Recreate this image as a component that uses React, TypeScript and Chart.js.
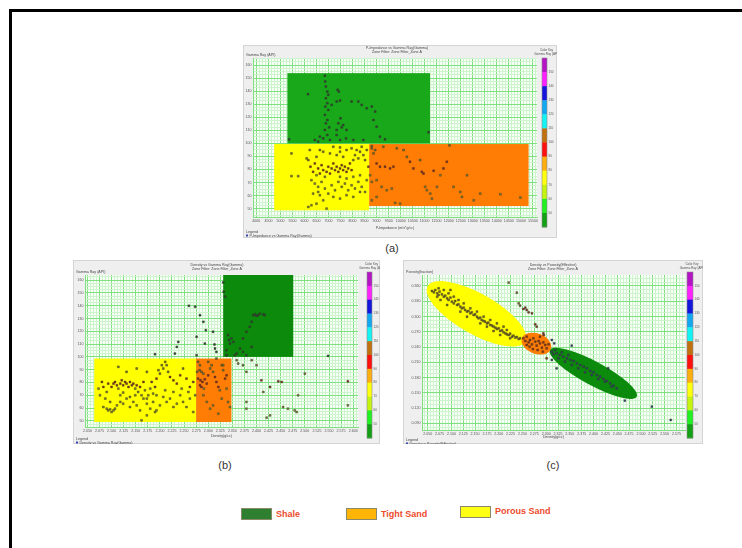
import { useEffect, useRef } from "react";
import { Chart, registerables } from "chart.js";

Chart.register(...registerables);

// ---------- (a) P-Impedance vs Gamma Ray ----------
const A_X_TICKS = [4000, 4500, 5000, 5500, 6000, 6500, 7000, 7500, 8000, 8500, 9000, 9500, 10000, 10500, 11000, 11500, 12000, 12500, 13000, 13500, 14000, 14500, 15000, 15500];
const A_Y_TICKS = [50, 60, 70, 80, 90, 100, 110, 120, 130, 140, 150, 160];
const A_SHALE_BOX = [5290, 11220, 100, 153.8];
const A_POROUS_BOX = [4740, 8690, 48.7, 99.5];
const A_TIGHT_BOX = [8690, 15320, 52, 99.5];

const A_SHALE_PTS = [
  [6850, 151.8], [6860, 147.4], [6890, 143.6], [6950, 139.7], [6990, 137.2], [6890, 134.6], [6950, 130.8], [6870, 128.2],
  [6990, 125.6], [6850, 121.8], [6950, 117.9], [6890, 115.4], [7030, 112.3], [6850, 110.3], [6950, 106.4], [6780, 103.8],
  [7060, 102.6], [6640, 105.1], [6150, 137.7], [7380, 141.0], [7430, 139.7], [7340, 132.1], [7480, 132.8], [7130, 129.5],
  [7500, 119.2], [7410, 115.4], [7550, 112.3], [7340, 110.3], [7610, 114.1], [7750, 110.3], [7730, 103.8], [7960, 132.1],
  [8240, 132.1], [8380, 129.5], [8590, 126.9], [8800, 128.2], [8940, 124.4], [8870, 117.9], [9000, 112.8], [8030, 102.6],
  [8450, 102.6], [9140, 105.1], [9350, 103.1], [11160, 108.5], [5360, 103.1], [6570, 101.3], [6430, 102.6], [7480, 102.6],
  [7340, 106.4],
];
const A_POROUS_PTS = [
  [5460, 92.3], [5460, 74.9], [5740, 74.9], [6090, 88.5], [6220, 94.9], [6160, 87.2], [6250, 82.1], [6360, 78.2], [6430, 84.6],
  [6500, 75.6], [6570, 80.8], [6640, 76.9], [6710, 83.3], [6780, 79.5], [6850, 74.4], [6920, 78.2], [6990, 82.1], [7060, 76.9],
  [7130, 80.8], [7200, 84.6], [7270, 79.5], [7340, 82.1], [7410, 78.2], [7480, 80.8], [7550, 83.3], [7610, 79.5], [7680, 82.1],
  [7750, 78.2], [7820, 80.8], [7890, 84.6], [7960, 79.5], [8030, 87.2], [8100, 91.0], [8170, 94.9], [8240, 88.5], [8310, 93.6],
  [8380, 97.4], [8450, 91.0], [8520, 87.2], [8590, 94.9], [7480, 93.6], [7340, 91.0], [7610, 89.7], [7060, 92.3], [6780, 93.6],
  [6500, 89.7], [6640, 94.9], [7200, 97.4], [7480, 96.9], [7750, 94.9], [7960, 96.2], [6290, 71.8], [6430, 69.2], [6570, 66.7],
  [6710, 70.5], [6850, 65.4], [6990, 61.5], [7130, 67.9], [7270, 64.1], [7410, 70.5], [7550, 66.7], [7680, 69.2], [7820, 64.1],
  [7960, 67.9], [8100, 65.4], [8240, 70.5], [8380, 66.7], [8520, 62.8], [6640, 60.3], [6780, 56.4], [6500, 53.8], [6290, 52.6],
  [6160, 51.3], [6920, 50.0], [7200, 59.0], [7480, 57.7], [7750, 60.3], [8030, 59.0], [8310, 62.8], [6360, 61.5], [6570, 62.8],
  [7480, 74.4], [7750, 73.1], [8030, 74.4], [8310, 75.6], [8590, 71.8], [8660, 82.1],
];
const A_TIGHT_PTS = [
  [8800, 96.2], [8870, 92.3], [9000, 84.6], [9140, 82.1], [9350, 82.1], [9560, 80.8], [9700, 82.1], [8730, 75.6], [8800, 70.5],
  [9000, 71.8], [9210, 66.7], [9420, 64.1], [9630, 65.4], [9770, 54.4], [9980, 53.8], [10120, 94.9], [10260, 89.7], [10390, 85.9],
  [10530, 80.8], [10810, 87.2], [10880, 78.2], [10950, 76.9], [11020, 66.7], [11090, 64.1], [11230, 61.5], [11300, 57.7],
  [11370, 79.0], [11650, 75.6], [11780, 80.8], [11920, 85.9], [12030, 98.5], [12200, 66.7], [12480, 62.8], [12550, 59.0],
  [12760, 75.6], [13040, 56.4], [13310, 61.5], [14150, 61.0], [14980, 58.5], [8800, 97.9], [8940, 94.9], [9280, 97.4],
  [9840, 96.2], [11510, 66.7], [9000, 59.0], [8800, 56.4],
];

// ---------- (b) Density vs Gamma Ray ----------
const B_X_TICKS = [2.05, 2.075, 2.1, 2.125, 2.15, 2.175, 2.2, 2.225, 2.25, 2.275, 2.3, 2.325, 2.35, 2.375, 2.4, 2.425, 2.45, 2.475, 2.5, 2.525, 2.55, 2.575, 2.6];
const B_Y_TICKS = [50, 60, 70, 80, 90, 100, 110, 120, 130, 140, 150, 160];
const B_SHALE_BOX = [2.331, 2.476, 100, 164];
const B_POROUS_BOX = [2.064, 2.275, 49.1, 98.7];
const B_TIGHT_BOX = [2.275, 2.348, 49.1, 98.7];

const B_POROUS_PTS = [
  [2.073, 75.2], [2.076, 70.0], [2.080, 80.4], [2.083, 76.5], [2.087, 67.4], [2.090, 72.6], [2.093, 79.1], [2.097, 64.8],
  [2.100, 76.5], [2.104, 79.1], [2.107, 80.4], [2.111, 77.8], [2.114, 75.2], [2.118, 79.1], [2.121, 81.7], [2.124, 77.8],
  [2.128, 80.4], [2.131, 79.1], [2.135, 76.5], [2.138, 80.4], [2.142, 77.8], [2.145, 79.1], [2.149, 75.2], [2.152, 77.8],
  [2.155, 72.6], [2.159, 76.5], [2.162, 70.0], [2.166, 80.4], [2.169, 73.9], [2.173, 67.4], [2.176, 70.0], [2.180, 75.2],
  [2.183, 80.4], [2.186, 71.3], [2.190, 76.5], [2.193, 83.0], [2.197, 89.6], [2.200, 86.9], [2.204, 93.5], [2.207, 90.9],
  [2.211, 96.1], [2.214, 93.5], [2.217, 88.3], [2.221, 84.3], [2.228, 81.7], [2.235, 79.1], [2.242, 85.6], [2.248, 90.9],
  [2.255, 83.0], [2.262, 76.5], [2.269, 80.4], [2.273, 70.0], [2.083, 60.8], [2.090, 59.5], [2.093, 58.2], [2.097, 59.0],
  [2.100, 56.9], [2.104, 58.2], [2.107, 59.5], [2.111, 62.1], [2.118, 64.8], [2.124, 63.4], [2.131, 67.4], [2.138, 60.8],
  [2.145, 64.8], [2.152, 62.1], [2.159, 58.2], [2.166, 67.4], [2.173, 63.4], [2.180, 59.5], [2.186, 64.8], [2.193, 58.2],
  [2.200, 62.1], [2.207, 68.7], [2.214, 64.8], [2.221, 67.4], [2.228, 60.8], [2.235, 63.4], [2.242, 70.0], [2.248, 64.8],
  [2.255, 60.8], [2.262, 67.4], [2.269, 56.9], [2.162, 50.4], [2.173, 54.3], [2.190, 56.9], [2.118, 70.0], [2.124, 72.1],
  [2.138, 68.7], [2.149, 70.0], [2.193, 70.0], [2.211, 73.9], [2.228, 72.6], [2.245, 75.2], [2.259, 72.6], [2.152, 90.9],
  [2.173, 88.3], [2.131, 88.3], [2.114, 92.2],
];
const B_TIGHT_PTS = [
  [2.277, 88.3], [2.282, 89.6], [2.286, 88.3], [2.290, 86.9], [2.279, 83.0], [2.284, 81.7], [2.288, 80.4], [2.293, 82.5],
  [2.297, 79.1], [2.283, 77.8], [2.286, 76.5], [2.291, 75.2], [2.300, 85.6], [2.304, 90.9], [2.307, 93.5], [2.310, 88.3],
  [2.314, 84.3], [2.317, 80.4], [2.321, 76.5], [2.324, 73.9], [2.328, 93.5], [2.331, 89.6], [2.335, 83.0], [2.338, 75.2],
  [2.290, 70.0], [2.297, 64.8], [2.304, 59.5], [2.310, 62.1], [2.321, 55.6], [2.328, 67.4], [2.331, 93.5], [2.338, 85.6],
  [2.341, 64.8], [2.345, 60.8], [2.283, 93.5], [2.279, 96.1], [2.300, 96.1],
];
const B_SHALE_PTS = [
  [2.331, 158.2], [2.332, 150.9], [2.335, 147.0], [2.341, 117.0], [2.343, 113.1], [2.345, 110.4], [2.348, 114.4], [2.352, 111.7],
  [2.355, 101.3], [2.366, 106.5], [2.372, 114.4], [2.379, 119.6], [2.386, 123.5], [2.390, 127.4], [2.393, 132.6], [2.397, 133.2],
  [2.400, 132.1], [2.403, 132.6], [2.407, 133.7], [2.414, 133.2], [2.417, 132.6], [2.372, 103.9], [2.379, 101.3], [2.390, 107.8],
  [2.338, 105.2], [2.359, 102.6], [2.338, 101.3],
];
const B_OTHER_PTS = [
  [2.260, 139.9], [2.273, 139.2], [2.283, 132.6], [2.290, 127.4], [2.295, 120.9], [2.276, 115.7], [2.293, 110.4], [2.310, 119.6],
  [2.313, 109.7], [2.314, 106.5], [2.317, 103.9], [2.317, 98.7], [2.238, 111.7], [2.235, 107.8], [2.231, 102.6], [2.190, 102.1],
  [2.276, 101.3], [2.359, 97.4], [2.362, 94.8], [2.372, 93.5], [2.379, 88.3], [2.390, 97.4], [2.400, 93.5], [2.410, 81.7],
  [2.414, 72.6], [2.428, 76.5], [2.445, 80.9], [2.452, 80.4], [2.455, 60.8], [2.465, 59.5], [2.479, 58.2], [2.483, 56.9],
  [2.486, 70.0], [2.500, 86.9], [2.548, 100.8], [2.589, 80.9], [2.589, 62.1], [2.379, 64.8], [2.379, 59.5], [2.421, 52.5],
  [2.428, 54.3],
];

// ---------- (c) Density vs Porosity ----------
const C_X_TICKS = [2.05, 2.075, 2.1, 2.125, 2.15, 2.175, 2.2, 2.225, 2.25, 2.275, 2.3, 2.325, 2.35, 2.375, 2.4, 2.425, 2.45, 2.475, 2.5, 2.525, 2.55, 2.575];
const C_Y_TICKS = [0.09, 0.12, 0.15, 0.18, 0.21, 0.24, 0.27, 0.3, 0.33, 0.36];
// ellipse: [x1, y1, x2, y2] major-axis ends, then minor/major ratio
const C_POROUS_ELLIPSE = [2.050, 0.3595, 2.256, 0.2510, 0.36];
const C_TIGHT_ELLIPSE = [2.249, 0.2572, 2.31, 0.2362, 0.66];
const C_SHALE_ELLIPSE = [2.308, 0.2342, 2.491, 0.1425, 0.24];

const C_POROUS_PTS = [
  [2.059, 0.3502], [2.063, 0.3476], [2.066, 0.3521], [2.070, 0.3456], [2.073, 0.3423], [2.075, 0.3489], [2.080, 0.3436],
  [2.084, 0.3390], [2.087, 0.3410], [2.091, 0.3358], [2.094, 0.3325], [2.098, 0.3371], [2.101, 0.3292], [2.105, 0.3259],
  [2.108, 0.3305], [2.112, 0.3227], [2.115, 0.3240], [2.119, 0.3194], [2.122, 0.3161], [2.126, 0.3174], [2.129, 0.3128],
  [2.133, 0.3096], [2.136, 0.3109], [2.140, 0.3063], [2.143, 0.3083], [2.147, 0.3030], [2.150, 0.3043], [2.154, 0.2997],
  [2.157, 0.2965], [2.161, 0.2978], [2.164, 0.2932], [2.168, 0.2912], [2.171, 0.2899], [2.175, 0.2866], [2.178, 0.2880],
  [2.182, 0.2834], [2.186, 0.2821], [2.189, 0.2801], [2.193, 0.2781], [2.196, 0.2755], [2.200, 0.2768], [2.203, 0.2716],
  [2.207, 0.2729], [2.210, 0.2690], [2.214, 0.2670], [2.217, 0.2650], [2.221, 0.2637], [2.224, 0.2663], [2.228, 0.2604],
  [2.231, 0.2624], [2.235, 0.2585], [2.238, 0.2598], [2.242, 0.2559], [2.245, 0.2572], [2.084, 0.3521], [2.094, 0.3456],
  [2.105, 0.3390], [2.115, 0.3325], [2.077, 0.3325], [2.091, 0.3227], [2.126, 0.3259], [2.140, 0.3161], [2.154, 0.3096],
  [2.168, 0.2997], [2.182, 0.2932], [2.189, 0.2716], [2.203, 0.2637], [2.217, 0.2735], [2.175, 0.2801], [2.161, 0.2866],
  [2.133, 0.2997], [2.119, 0.3096], [2.098, 0.3521], [2.073, 0.3554], [2.196, 0.2866], [2.210, 0.2801], [2.224, 0.2572],
  [2.070, 0.3390],
];
const C_TIGHT_PTS = [
  [2.252, 0.2572], [2.256, 0.2519], [2.259, 0.2604], [2.263, 0.2493], [2.266, 0.2539], [2.270, 0.2454], [2.273, 0.2572],
  [2.277, 0.2506], [2.280, 0.2428], [2.284, 0.2519], [2.287, 0.2473], [2.291, 0.2388], [2.294, 0.2493], [2.298, 0.2441],
  [2.301, 0.2375], [2.305, 0.2454], [2.265, 0.2408], [2.272, 0.2362], [2.282, 0.2342], [2.293, 0.2310], [2.259, 0.2441],
  [2.287, 0.2604], [2.295, 0.2637],
];
const C_SHALE_PTS = [
  [2.312, 0.2310], [2.315, 0.2257], [2.322, 0.2277], [2.329, 0.2244], [2.336, 0.2211], [2.344, 0.2179], [2.351, 0.2146],
  [2.358, 0.2126], [2.365, 0.2080], [2.372, 0.2048], [2.379, 0.2015], [2.386, 0.1982], [2.393, 0.1930], [2.400, 0.1904],
  [2.407, 0.1851], [2.414, 0.1818], [2.421, 0.1773], [2.428, 0.1733], [2.435, 0.1687], [2.442, 0.1642], [2.326, 0.2179],
  [2.340, 0.2113], [2.354, 0.2048], [2.368, 0.1982], [2.382, 0.1904], [2.396, 0.1851], [2.410, 0.1773], [2.424, 0.1720],
  [2.438, 0.1622], [2.449, 0.1589], [2.319, 0.2342], [2.333, 0.2297], [2.347, 0.2244],
];
const C_OTHER_PTS = [
  [2.221, 0.3666], [2.238, 0.3469], [2.242, 0.3259], [2.245, 0.3214], [2.252, 0.3148], [2.256, 0.3174], [2.259, 0.3128],
  [2.263, 0.3083], [2.270, 0.3063], [2.277, 0.2847], [2.280, 0.2801], [2.294, 0.2670], [2.312, 0.2539], [2.317, 0.2473],
  [2.301, 0.2179], [2.312, 0.2146], [2.322, 0.1982], [2.354, 0.2428], [2.431, 0.1982], [2.466, 0.1347], [2.523, 0.1229],
  [2.563, 0.0967],
];

// ---------- colour key and facies legend ----------
const KEY_COLORS = ["#b414c4", "#ff22ff", "#1414dc", "#14a8f0", "#14f4f4", "#c0700e", "#ff1010", "#ffae10", "#ffff10", "#c4f410", "#22f022", "#14a014"];
const KEY_LABELS = ["150", "140", "130", "120", "110", "100", "90", "80", "70", "60", "50"];
const FACIES = ["Shale", "Tight Sand", "Porous Sand"];
const FACIES_COLORS = ["#2f7f31", "#ffb506", "#ffff14"];

const YELLOW = "#ffff00";
const ORANGE = "#ff7d05";

type Pt = number[];
type Spec = {
  left: number; top: number; width: number; height: number;
  pad: { left: number; top: number; right: number; bottom: number };
  yAxisW: number; xAxisH: number;
  xMin: number; xMax: number; yMin: number; yMax: number;
  xTicks: number[]; yTicks: number[]; xFmt: (v: number) => string; yFmt: (v: number) => string;
  boxes: { r: number[]; color: string }[];
  ellipses: { e: number[]; color: string }[];
  groups: { pts: Pt[]; color: (x: number, y: number) => string }[];
  key: { x: number; y: number; w: number; h: number };
  title: string[]; titleX: number; titleY: number;
  yTitle: string; xTitle: string; xTitleY: number; legendY: number; legendText: string;
};

const grColor = (_x: number, y: number) =>
  y >= 100 ? "#2f4a2a" : y >= 86 ? "#7a7420" : y >= 76 ? "#962a10" : "#858226";
const densColor = (x: number, _y: number) =>
  x < 2.246 ? "#7a6a1c" : x < 2.31 ? "#943410" : "#34466a";

function makeTicks(majors: number[], sub: number, min: number, max: number, fmt: (v: number) => string) {
  const step = (majors[1] - majors[0]) / sub;
  const base = majors[0];
  const kMin = Math.ceil((min - base) / step - 1e-9);
  const kMax = Math.floor((max - base) / step + 1e-9);
  const out: { value: number; major: boolean; label: string }[] = [];
  for (let k = kMin; k <= kMax; k++) {
    const idx = k / sub;
    const major = k % sub === 0 && idx >= 0 && idx < majors.length;
    out.push({ value: base + k * step, major, label: major ? fmt(majors[idx]) : "" });
  }
  return out;
}

const MAJOR_GRID = "#7fe07f";
const MINOR_GRID = "#cdf4cd";

function Panel({ spec }: { spec: Spec }) {
  const ref = useRef<HTMLCanvasElement | null>(null);
  useEffect(() => {
    if (!ref.current) return;
    const s = spec;
    const decor = {
      id: "panelDecor",
      beforeDraw(chart: any) {
        const { ctx, chartArea: a } = chart;
        ctx.save();
        ctx.fillStyle = "#efefef";
        ctx.fillRect(0, 0, s.width, s.height);
        ctx.strokeStyle = "#d4d4d4";
        ctx.lineWidth = 1;
        ctx.strokeRect(0.5, 0.5, s.width - 1, s.height - 1);
        ctx.fillStyle = "#f7fff7";
        ctx.fillRect(a.left, a.top, a.right - a.left, a.bottom - a.top);
        ctx.restore();
      },
      beforeDatasetsDraw(chart: any) {
        const { ctx } = chart;
        const xs = chart.scales.x;
        const ys = chart.scales.y;
        ctx.save();
        for (const b of s.boxes) {
          const x0 = xs.getPixelForValue(b.r[0]);
          const x1 = xs.getPixelForValue(b.r[1]);
          const y0 = ys.getPixelForValue(b.r[2]);
          const y1 = ys.getPixelForValue(b.r[3]);
          ctx.fillStyle = b.color;
          ctx.fillRect(x0, y1, x1 - x0, y0 - y1);
        }
        for (const el of s.ellipses) {
          const [ex1, ey1, ex2, ey2, ratio] = el.e;
          const p1x = xs.getPixelForValue(ex1), p1y = ys.getPixelForValue(ey1);
          const p2x = xs.getPixelForValue(ex2), p2y = ys.getPixelForValue(ey2);
          const semi = Math.hypot(p2x - p1x, p2y - p1y) / 2;
          ctx.beginPath();
          ctx.ellipse((p1x + p2x) / 2, (p1y + p2y) / 2, semi, semi * ratio, Math.atan2(p2y - p1y, p2x - p1x), 0, Math.PI * 2);
          ctx.fillStyle = el.color;
          ctx.fill();
        }
        ctx.restore();
      },
      afterDraw(chart: any) {
        const { ctx, chartArea: a } = chart;
        ctx.save();
        ctx.fillStyle = "#444";
        ctx.font = "3.6px Arial, 'Liberation Sans', sans-serif";
        ctx.textBaseline = "middle";
        ctx.textAlign = "center";
        s.title.forEach((t, i) => ctx.fillText(t, s.titleX, s.titleY + i * 4));
        ctx.fillText(s.xTitle, (a.left + a.right) / 2, s.xTitleY);
        ctx.textAlign = "left";
        ctx.fillText(s.yTitle, 3, a.top - 3);
        ctx.fillText("Legend", 3, s.legendY);
        ctx.fillStyle = "#3344aa";
        ctx.fillRect(3, s.legendY + 2.5, 2, 2);
        ctx.fillStyle = "#444";
        ctx.fillText(s.legendText, 6.5, s.legendY + 3.6);
        // colour key
        const k = s.key;
        const seg = k.h / KEY_COLORS.length;
        KEY_COLORS.forEach((c, i) => {
          ctx.fillStyle = c;
          ctx.fillRect(k.x, k.y + i * seg, k.w, seg + 0.4);
        });
        ctx.strokeStyle = "#8a8a8a";
        ctx.lineWidth = 0.6;
        ctx.strokeRect(k.x, k.y, k.w, k.h);
        ctx.fillStyle = "#555";
        ctx.font = "3px Arial, 'Liberation Sans', sans-serif";
        KEY_LABELS.forEach((l, i) => ctx.fillText(l, k.x + k.w + 1.5, k.y + (i + 1) * seg));
        ctx.textAlign = "center";
        ctx.fillText("Color Key", k.x + k.w / 2 + 2, k.y - 8);
        ctx.fillText("Gamma Ray (API)", k.x + k.w / 2 + 2, k.y - 4);
        ctx.restore();
      },
    };

    const xt = makeTicks(s.xTicks, 4, s.xMin, s.xMax, s.xFmt);
    const yt = makeTicks(s.yTicks, 4, s.yMin, s.yMax, s.yFmt);
    const gridColor = (c: any) => (c.tick && c.tick.major ? MAJOR_GRID : MINOR_GRID);
    const tickFont = { size: 3.6, family: "Arial, 'Liberation Sans', sans-serif" };

    const chart = new Chart(ref.current, {
      type: "scatter",
      data: {
        datasets: s.groups.map((g) => ({
          data: g.pts.map((p) => ({ x: p[0], y: p[1] })),
          pointStyle: "rect",
          pointRadius: 1.35,
          pointBorderWidth: 0.4,
          pointBorderColor: "#303030",
          pointBackgroundColor: (c: any) => (c.raw ? g.color(c.raw.x, c.raw.y) : "#333"),
        })),
      },
      options: {
        responsive: false,
        animation: false,
        events: [],
        layout: { padding: s.pad },
        plugins: { legend: { display: false }, tooltip: { enabled: false }, title: { display: false } },
        scales: {
          x: {
            type: "linear",
            min: s.xMin,
            max: s.xMax,
            afterBuildTicks: (sc: any) => { sc.ticks = xt.map((t) => ({ ...t })); },
            afterFit: (sc: any) => { sc.height = s.xAxisH; },
            ticks: {
              autoSkip: false, maxRotation: 0, minRotation: 0, padding: 1.5, color: "#555", font: tickFont,
              callback: (_v: any, i: number, ticks: any[]) => ticks[i].label,
            },
            grid: { color: gridColor, lineWidth: 1, drawTicks: false },
            border: { color: "#7fe07f", width: 1 },
          },
          y: {
            type: "linear",
            min: s.yMin,
            max: s.yMax,
            afterBuildTicks: (sc: any) => { sc.ticks = yt.map((t) => ({ ...t })); },
            afterFit: (sc: any) => { sc.width = s.yAxisW; },
            ticks: {
              autoSkip: false, padding: 1.5, color: "#555", font: tickFont,
              callback: (_v: any, i: number, ticks: any[]) => ticks[i].label,
            },
            grid: { color: gridColor, lineWidth: 1, drawTicks: false },
            border: { color: "#7fe07f", width: 1 },
          },
        },
      },
      plugins: [decor],
    } as any);
    return () => chart.destroy();
  }, [spec]);

  return (
    <canvas
      ref={ref}
      width={spec.width}
      height={spec.height}
      style={{ position: "absolute", left: spec.left, top: spec.top, width: spec.width, height: spec.height }}
    />
  );
}

const fmtInt = (v: number) => String(Math.round(v));
const fmt3 = (v: number) => v.toFixed(3);

const SPEC_A: Spec = {
  left: 243, top: 45, width: 314, height: 193,
  pad: { left: 0, top: 13, right: 20, bottom: 11 }, yAxisW: 10, xAxisH: 10,
  xMin: 3860, xMax: 15670, yMin: 43.6, yMax: 165.4,
  xTicks: A_X_TICKS, yTicks: A_Y_TICKS, xFmt: fmtInt, yFmt: fmtInt,
  boxes: [
    { r: A_SHALE_BOX, color: "#19a819" },
    { r: A_POROUS_BOX, color: YELLOW },
    { r: A_TIGHT_BOX, color: ORANGE },
  ],
  ellipses: [],
  groups: [
    { pts: A_SHALE_PTS, color: grColor },
    { pts: A_POROUS_PTS, color: grColor },
    { pts: A_TIGHT_PTS, color: grColor },
  ],
  key: { x: 299, y: 13, w: 5, h: 169 },
  title: ["P-Impedance vs Gamma Ray(Gamma)", "Zone Filter: Zone Filter_Zone A"], titleX: 154, titleY: 3,
  yTitle: "Gamma Ray (API)", xTitle: "P-Impedance (m/s*g/cc)", xTitleY: 183, legendY: 187,
  legendText: "P-Impedance vs Gamma Ray(Gamma)",
};

const SPEC_B: Spec = {
  left: 73, top: 260, width: 307, height: 184,
  pad: { left: 0, top: 15, right: 22, bottom: 7 }, yAxisW: 12, xAxisH: 10,
  xMin: 2.045, xMax: 2.61, yMin: 45.2, yMax: 164,
  xTicks: B_X_TICKS, yTicks: B_Y_TICKS, xFmt: fmt3, yFmt: fmtInt,
  boxes: [
    { r: B_SHALE_BOX, color: "#0b8a0b" },
    { r: B_POROUS_BOX, color: YELLOW },
    { r: B_TIGHT_BOX, color: ORANGE },
  ],
  ellipses: [],
  groups: [
    { pts: B_POROUS_PTS, color: grColor },
    { pts: B_TIGHT_PTS, color: grColor },
    { pts: B_SHALE_PTS, color: grColor },
    { pts: B_OTHER_PTS, color: grColor },
  ],
  key: { x: 294, y: 12, w: 5, h: 166 },
  title: ["Density vs Gamma Ray(Gamma)", "Zone Filter: Zone Filter_Zone A"], titleX: 144, titleY: 5,
  yTitle: "Gamma Ray (API)", xTitle: "Density(g/cc)", xTitleY: 176, legendY: 179,
  legendText: "Density vs Gamma Ray(Gamma)",
};

const SPEC_C: Spec = {
  left: 403, top: 260, width: 300, height: 184,
  pad: { left: 0, top: 15, right: 18, bottom: 4 }, yAxisW: 19, xAxisH: 10,
  xMin: 2.038, xMax: 2.593, yMin: 0.077, yMax: 0.3816,
  xTicks: C_X_TICKS, yTicks: C_Y_TICKS, xFmt: fmt3, yFmt: fmt3,
  boxes: [],
  ellipses: [
    { e: C_POROUS_ELLIPSE, color: YELLOW },
    { e: C_SHALE_ELLIPSE, color: "#0b8a0b" },
    { e: C_TIGHT_ELLIPSE, color: ORANGE },
  ],
  groups: [
    { pts: C_POROUS_PTS, color: densColor },
    { pts: C_TIGHT_PTS, color: densColor },
    { pts: C_SHALE_PTS, color: densColor },
    { pts: C_OTHER_PTS, color: densColor },
  ],
  key: { x: 284, y: 12, w: 6, h: 166 },
  title: ["Density vs Porosity(Effective)", "Zone Filter: Zone Filter_Zone A"], titleX: 150, titleY: 5,
  yTitle: "Porosity(fraction)", xTitle: "Density(g/cc)", xTitleY: 177, legendY: 180,
  legendText: "Density vs Porosity(Effective)",
};

const capStyle: React.CSSProperties = {
  position: "absolute",
  font: "11px Arial, 'Liberation Sans', sans-serif",
  color: "#333",
  transform: "translateX(-50%)",
  whiteSpace: "nowrap",
};

export default function App() {
  const legendPos = [
    { box: [241, 508], text: [276, 509] },
    { box: [346, 508], text: [381, 509] },
    { box: [460, 506], text: [495, 506] },
  ];
  return (
    <div style={{ position: "absolute", left: 0, top: 0, width: 742, height: 548, overflow: "hidden", background: "#fff" }}>
      <div style={{ position: "absolute", left: 9, top: 9, width: 780, height: 580, border: "3px solid #000", boxSizing: "border-box" }} />
      <Panel spec={SPEC_A} />
      <Panel spec={SPEC_B} />
      <Panel spec={SPEC_C} />
      <div style={{ ...capStyle, left: 392, top: 242 }}>(a)</div>
      <div style={{ ...capStyle, left: 225, top: 459 }}>(b)</div>
      <div style={{ ...capStyle, left: 553, top: 459 }}>(c)</div>
      {FACIES.map((f, i) => (
        <div key={f}>
          <div
            style={{
              position: "absolute", left: legendPos[i].box[0], top: legendPos[i].box[1], width: 31, height: 12,
              background: FACIES_COLORS[i], border: "1px solid #8a8a6a", boxSizing: "border-box",
            }}
          />
          <div
            style={{
              position: "absolute", left: legendPos[i].text[0], top: legendPos[i].text[1],
              font: "bold 9px Arial, 'Liberation Sans', sans-serif", color: "#ec4b2c", whiteSpace: "nowrap",
            }}
          >
            {f}
          </div>
        </div>
      ))}
    </div>
  );
}
